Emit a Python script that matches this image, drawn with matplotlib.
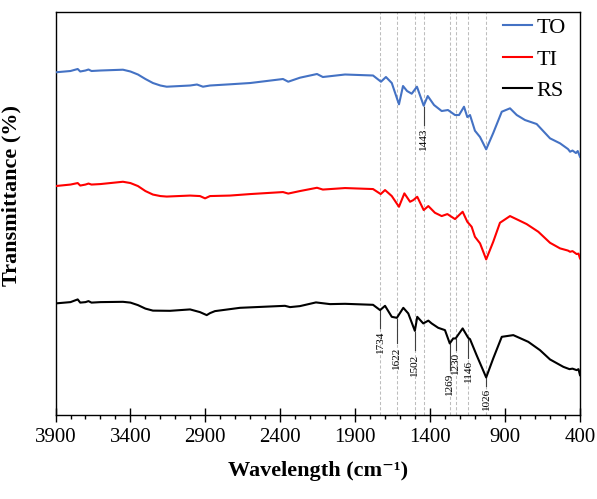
import numpy as np
import matplotlib.pyplot as plt

plt.rcParams["font.family"] = ["Liberation Serif", "DejaVu Serif"]

# wavenumber (cm-1) and transmittance (arbitrary offset units)
to_x = [3900, 3800, 3752, 3735, 3700, 3680, 3660, 3600, 3450, 3400, 3350, 3300, 3250,
        3200, 3158, 3002, 2956, 2916, 2869, 2736, 2600, 2382, 2347, 2269, 2155, 2116,
        1968, 1781, 1728, 1695, 1656, 1608, 1581, 1554, 1523, 1488, 1443, 1416, 1374,
        1323, 1281, 1234, 1207, 1174, 1152, 1134, 1101, 1067, 1026, 979, 922, 867,
        822, 767, 689, 600, 533, 480, 466, 450, 427, 415, 400]
to_y = [342.7, 344, 346, 343.5, 344.5, 345.5, 344, 344.5, 345.3, 343.5, 340.5, 336, 332,
        329.5, 328.3, 329.5, 330.5, 328.3, 329.5, 330.7, 332, 336, 333.3, 337.3, 341, 338,
        340.5, 339.5, 333.3, 338, 332, 310.7, 329, 324, 321.3, 328.3, 309.3, 319, 310,
        304, 305, 300, 300, 308.3, 298, 300, 284.3, 278, 265.7, 282, 303.3, 306.7,
        300, 295, 291, 276.7, 271.7, 266, 263.3, 264.5, 262, 264, 258.3]

ti_x = [3900, 3800, 3752, 3735, 3700, 3680, 3660, 3600, 3450, 3400, 3350, 3300, 3250,
        3200, 3158, 3002, 2936, 2902, 2869, 2736, 2600, 2382, 2347, 2269, 2155, 2116,
        1968, 1781, 1730, 1701, 1656, 1608, 1572, 1534, 1512, 1486, 1443, 1412, 1368,
        1323, 1285, 1234, 1183, 1152, 1123, 1101, 1067, 1026, 979, 934, 867, 811,
        756, 678, 600, 533, 480, 466, 450, 422, 410, 400]
ti_y = [229, 230.5, 232, 229.5, 230.5, 231.5, 230.5, 231, 233.3, 232, 229, 224, 220.5,
        219, 218.5, 219.5, 219, 216.7, 219, 219.5, 221, 223, 221.5, 224, 227.3, 225.5,
        227, 226, 221, 225, 219, 208.3, 221.7, 213.3, 215, 218.3, 205, 209, 202.3,
        199, 201, 196, 203.3, 193.3, 188.3, 178.3, 171.7, 155.7, 173.3, 192.3, 199, 195,
        191, 183.3, 172.3, 166.7, 164.5, 163.3, 164, 161, 161.5, 156.7]

rs_x = [3900, 3800, 3752, 3735, 3700, 3680, 3660, 3600, 3450, 3400, 3350, 3300, 3250,
        3136, 3002, 2936, 2891, 2869, 2836, 2669, 2369, 2335, 2269, 2162, 2068, 1968,
        1781, 1734, 1701, 1656, 1622, 1579, 1546, 1502, 1486, 1446, 1412, 1390, 1346,
        1301, 1269, 1246, 1230, 1183, 1146, 1134, 1090, 1026, 979, 922, 845, 800,
        745, 667, 600, 511, 470, 450, 422, 410, 400]
rs_y = [111.7, 113, 115.7, 112.5, 113, 114, 112.5, 113, 113.3, 112.5, 110, 106.5, 104.5,
        104.3, 105.7, 103, 100, 102, 104, 107.3, 109.3, 108, 109, 112.7, 111, 111.3,
        110.3, 105, 109.3, 98.3, 97.3, 107.3, 101.7, 84.3, 98.3, 91.7, 94.5, 91.7, 87.3,
        85, 71.7, 76.7, 76.7, 86.7, 77.3, 76, 60, 37.7, 56.7, 78.3, 80, 77,
        73.3, 65, 55.7, 48.3, 46, 46.5, 45, 46, 40]

peaks = [1734, 1622, 1502, 1443, 1269, 1230, 1146, 1026]
# RS peak labels: wavenumber, bottom of leader line, top of text
rs_peaks = [1734, 1622, 1502, 1269, 1230, 1146, 1026]
rs_line_end = [87, 72, 65, 45, 65, 57, 29]
rs_text_top = [85, 68, 61, 42, 63, 55, 27]

fig = plt.figure(figsize=(5.97, 4.99), dpi=100)
ax = fig.add_axes([0.093, 0.168, 0.8785, 0.808])

for p in peaks:
    ax.axvline(p, color="#bdbdbd", ls=(0, (3, 2)), lw=0.75, zorder=1)

ax.plot(to_x, to_y, color="#4472C4", lw=1.5, label="TO", zorder=3)
ax.plot(ti_x, ti_y, color="#FF0000", lw=1.5, label="TI", zorder=3)
ax.plot(rs_x, rs_y, color="black", lw=1.5, label="RS", zorder=3)

rs_sorted = np.argsort(rs_x)
for p, le, tt in zip(rs_peaks, rs_line_end, rs_text_top):
    yc = np.interp(p, np.array(rs_x)[rs_sorted], np.array(rs_y)[rs_sorted])
    ax.plot([p, p], [yc - 1, le], color="#404040", lw=0.8, zorder=2)
    ax.text(p, tt, str(p), rotation=90, ha="center", va="top", fontsize=8)

to_sorted = np.argsort(to_x)
yc = np.interp(1443, np.array(to_x)[to_sorted], np.array(to_y)[to_sorted])
ax.plot([1443, 1443], [yc - 1, 290], color="#404040", lw=0.8, zorder=2)
ax.text(1443, 287, "1443", rotation=90, ha="center", va="top", fontsize=8)

ax.set_xlim(3900, 400)
ax.set_ylim(0, 403)
ax.set_xticks(np.arange(3900, 399, -500))
ax.set_xticks(np.arange(3900, 399, -100), minor=True)
ax.set_yticks([])
ax.tick_params(axis="x", which="major", direction="inout", length=10, width=1,
               labelsize=15, pad=4)
ax.tick_params(axis="x", which="minor", direction="out", length=3, width=1)
for s in ax.spines.values():
    s.set_linewidth(1)

ax.set_xlabel("Wavelength (cm\u207b\u00b9)", fontsize=16, fontweight="bold", labelpad=10)
ax.set_ylabel("Transmittance (%)", fontsize=16, fontweight="bold")
ax.yaxis.set_label_coords(-0.064, 0.546)

ax.legend(loc="upper right", bbox_to_anchor=(0.979, 0.995), frameon=False, fontsize=16,
          handlelength=1.3, handletextpad=0.2, labelspacing=0.5, borderaxespad=0.0,
          borderpad=0.15)

fig.savefig("out.png", dpi=100)
